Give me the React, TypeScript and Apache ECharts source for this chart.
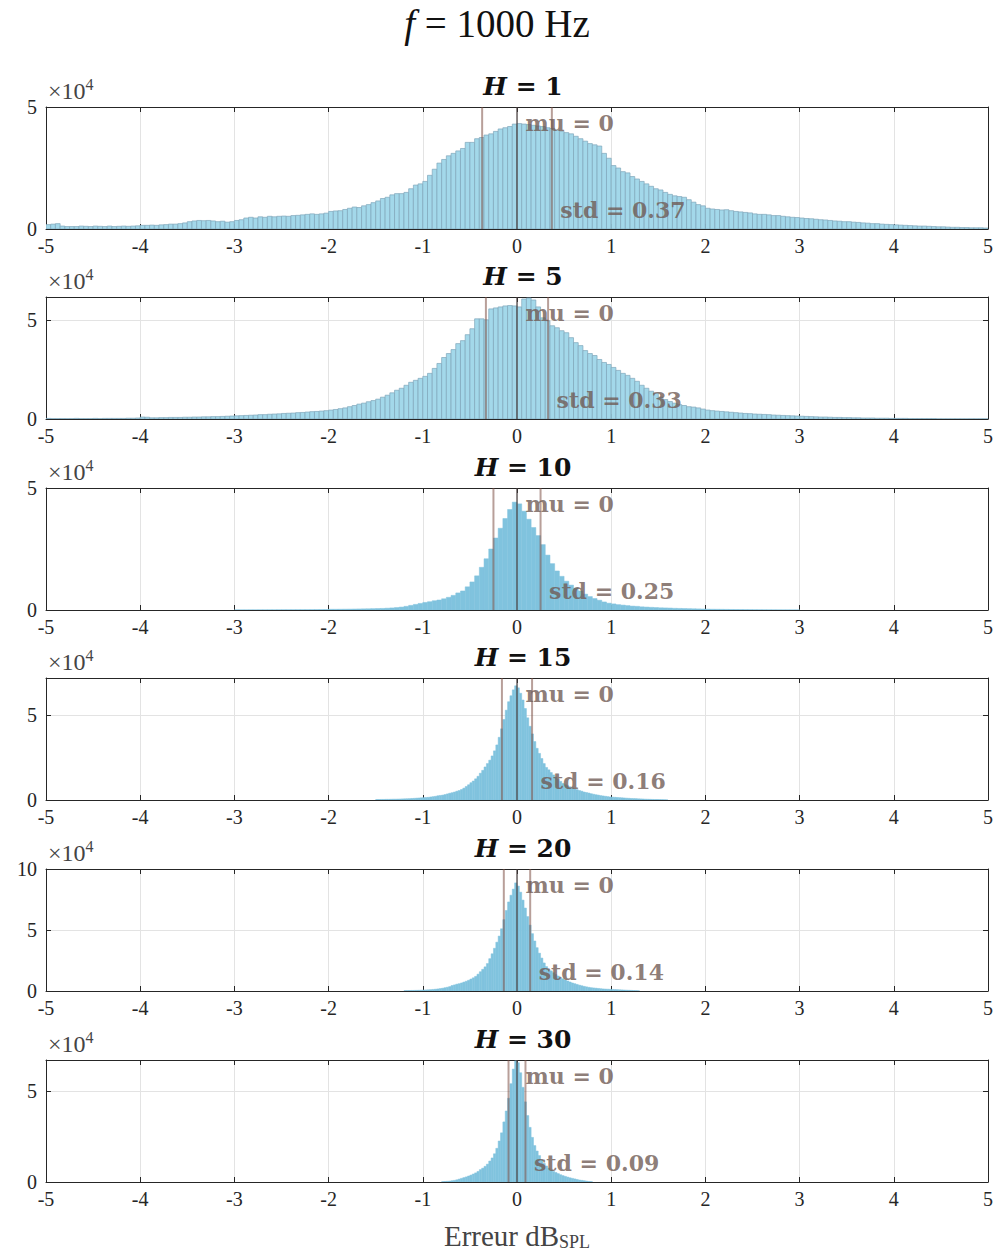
import React, { useEffect, useRef } from "react";
import * as echarts from "echarts";

// ---------- DATA (counts in units of 10^4) ----------
const H_VALUES = ["1", "5", "10", "15", "20", "30"];
const MU = [0, 0, 0, 0, 0, 0];
const STD = [0.37, 0.33, 0.25, 0.16, 0.14, 0.09];
const Y_MAX = [5, 6.15, 5, 7.2, 10, 6.7];
const Y_TICK_STEP = 5;
const X_TICKS_MIN = -5;
const X_TICKS_MAX = 5;
const BIN_START = [-5, -5, -3, -1.5, -1.2, -0.8];
const BIN_WIDTH = [0.05, 0.05, 0.05, 0.025, 0.025, 0.025];

const COUNTS_H1 = [
  0.18, 0.2, 0.22, 0.12, 0.1, 0.1, 0.1, 0.12, 0.11, 0.1, 0.12, 0.11, 0.1, 0.12, 0.1, 0.11, 0.12, 0.11, 0.12, 0.13,
  0.15, 0.15, 0.16, 0.15, 0.17, 0.18, 0.2, 0.2, 0.22, 0.25, 0.3, 0.33, 0.35, 0.34, 0.35, 0.33, 0.3, 0.32, 0.28, 0.3,
  0.35, 0.38, 0.45, 0.48, 0.45, 0.5, 0.48, 0.52, 0.5, 0.52, 0.53, 0.52, 0.55, 0.56, 0.58, 0.6, 0.62, 0.6, 0.62, 0.65,
  0.72, 0.74, 0.75, 0.8, 0.85, 0.9, 0.88, 0.95, 1.0, 1.08, 1.15, 1.25, 1.3, 1.4, 1.45, 1.45, 1.5, 1.65, 1.8, 1.85,
  1.95, 2.2, 2.45, 2.7, 2.85, 3.0, 3.1, 3.2, 3.3, 3.55, 3.55, 3.7, 3.75, 3.85, 3.9, 4.0, 4.1, 4.15, 4.2, 4.3,
  4.32, 4.3, 4.28, 4.25, 4.22, 4.2, 4.15, 4.12, 4.05, 4.0, 3.95, 3.9, 3.8, 3.7, 3.6, 3.5, 3.45, 3.4, 3.1, 2.9,
  2.6, 2.5, 2.35, 2.3, 2.15, 2.05, 1.95, 1.85, 1.75, 1.65, 1.6, 1.5, 1.42, 1.36, 1.33, 1.3, 1.2, 1.1, 1.0, 0.95,
  0.85, 0.82, 0.8, 0.78, 0.79, 0.75, 0.72, 0.7, 0.68, 0.66, 0.62, 0.6, 0.6, 0.58, 0.55, 0.55, 0.52, 0.5, 0.48, 0.47,
  0.45, 0.43, 0.42, 0.4, 0.38, 0.37, 0.35, 0.33, 0.32, 0.3, 0.3, 0.28, 0.27, 0.25, 0.24, 0.22, 0.22, 0.2, 0.19, 0.18,
  0.17, 0.16, 0.15, 0.14, 0.13, 0.12, 0.12, 0.11, 0.1, 0.09, 0.09, 0.08, 0.07, 0.07, 0.06, 0.06, 0.05, 0.05, 0.05, 0.04,
];

const COUNTS_H5 = [
  0.03, 0.02, 0.02, 0.02, 0.02, 0.02, 0.03, 0.02, 0.02, 0.02, 0.03, 0.02, 0.03, 0.03, 0.03, 0.03, 0.03, 0.04, 0.04, 0.05,
  0.1, 0.09, 0.06, 0.06, 0.07, 0.07, 0.08, 0.08, 0.08, 0.09, 0.09, 0.1, 0.1, 0.11, 0.11, 0.12, 0.12, 0.13, 0.14, 0.15,
  0.16, 0.17, 0.18, 0.19, 0.2, 0.22, 0.22, 0.24, 0.25, 0.26, 0.28, 0.29, 0.3, 0.32, 0.33, 0.35, 0.37, 0.38, 0.4, 0.42,
  0.45, 0.48, 0.52, 0.56, 0.62, 0.68, 0.75, 0.8, 0.87, 0.93, 1.0, 1.1, 1.2, 1.32, 1.45, 1.55, 1.7, 1.85, 1.95, 2.05,
  2.15, 2.3, 2.55, 2.8, 3.1, 3.3, 3.5, 3.8, 3.95, 4.25, 4.55, 5.05, 5.05, 5.0, 5.55, 5.6, 5.65, 5.7, 5.72, 5.7,
  5.65, 6.05, 6.1, 6.0, 5.65, 5.1, 4.95, 4.7, 4.6, 4.45, 4.35, 4.1, 3.85, 3.7, 3.45, 3.3, 3.2, 3.0, 2.85, 2.75,
  2.6, 2.45, 2.3, 2.2, 2.05, 1.9, 1.7, 1.55, 1.4, 1.3, 1.1, 0.98, 0.88, 0.8, 0.72, 0.68, 0.62, 0.6, 0.56, 0.5,
  0.45, 0.42, 0.4, 0.38, 0.36, 0.34, 0.32, 0.3, 0.28, 0.27, 0.25, 0.24, 0.23, 0.22, 0.2, 0.19, 0.18, 0.17, 0.16, 0.15,
  0.14, 0.13, 0.12, 0.11, 0.1, 0.1, 0.09, 0.08, 0.08, 0.07, 0.07, 0.06, 0.06, 0.05, 0.05, 0.05, 0.04, 0.04, 0.04, 0.03,
  0.03, 0.03, 0.03, 0.02, 0.02, 0.02, 0.02, 0.02, 0.02, 0.01, 0.01, 0.01, 0.01, 0.01, 0.01, 0.01, 0.01, 0.01, 0.01, 0.01,
];

const COUNTS_H10 = [
  0.005, 0.005, 0.005, 0.006, 0.006, 0.007, 0.007, 0.008, 0.008, 0.009, 0.01, 0.01, 0.011, 0.012, 0.013, 0.014, 0.015, 0.017, 0.018, 0.02,
  0.03, 0.03, 0.032, 0.034, 0.036, 0.04, 0.043, 0.047, 0.05, 0.055, 0.06, 0.065, 0.075, 0.085, 0.1, 0.12, 0.15, 0.19, 0.23, 0.27,
  0.31, 0.34, 0.38, 0.41, 0.46, 0.52, 0.6, 0.7, 0.78, 0.95, 1.15, 1.4, 1.75, 2.1, 2.5, 2.95, 3.35, 3.75, 4.12, 4.42,
  4.35, 4.05, 3.72, 3.38, 3.05, 2.68, 2.25, 1.9, 1.6, 1.38, 1.18, 1.02, 0.9, 0.78, 0.65, 0.55, 0.47, 0.4, 0.33, 0.28,
  0.25, 0.22, 0.2, 0.18, 0.16, 0.15, 0.13, 0.12, 0.11, 0.1, 0.09, 0.085, 0.08, 0.07, 0.065, 0.06, 0.055, 0.05, 0.045, 0.04,
  0.035, 0.032, 0.03, 0.028, 0.025, 0.022, 0.02, 0.018, 0.016, 0.014, 0.012, 0.01, 0.009, 0.008, 0.007, 0.006, 0.005, 0.005, 0.004, 0.004,
];

const COUNTS_H15 = [
  0.03, 0.03, 0.035, 0.035, 0.04, 0.04, 0.045, 0.05, 0.05, 0.055, 0.06, 0.065, 0.07, 0.075, 0.08, 0.09, 0.1, 0.11, 0.12, 0.13,
  0.14, 0.15, 0.16, 0.18, 0.2, 0.22, 0.25, 0.27, 0.29, 0.32, 0.36, 0.4, 0.43, 0.47, 0.52, 0.56, 0.62, 0.7, 0.8, 0.9,
  1.02, 1.12, 1.25, 1.4, 1.58, 1.75, 1.95, 2.15, 2.35, 2.6, 2.9, 3.25, 3.7, 4.2, 4.75, 5.3, 5.8, 6.15, 6.5, 6.74,
  6.62, 6.3, 5.9, 5.4, 4.85, 4.35, 3.9, 3.45, 3.05, 2.75, 2.45, 2.15, 1.92, 1.78, 1.62, 1.48, 1.35, 1.22, 1.1, 0.98,
  0.9, 0.84, 0.78, 0.72, 0.66, 0.61, 0.56, 0.52, 0.47, 0.44, 0.41, 0.37, 0.34, 0.31, 0.29, 0.26, 0.24, 0.22, 0.2, 0.18,
  0.17, 0.16, 0.15, 0.14, 0.13, 0.12, 0.11, 0.1, 0.09, 0.085, 0.08, 0.07, 0.065, 0.06, 0.05, 0.045, 0.04, 0.035, 0.03, 0.03,
  0.025, 0.02, 0.015, 0.01,
];

const COUNTS_H20 = [
  0.03, 0.035, 0.04, 0.045, 0.05, 0.055, 0.06, 0.07, 0.08, 0.09, 0.1, 0.11, 0.13, 0.15, 0.17, 0.2, 0.23, 0.27, 0.31, 0.36,
  0.45, 0.5, 0.56, 0.6, 0.66, 0.73, 0.8, 0.88, 0.98, 1.08, 1.2, 1.38, 1.58, 1.78, 1.98, 2.25, 2.65, 3.05, 3.5, 4.0,
  4.5, 5.1, 5.85, 6.6, 7.3, 7.85, 8.35, 8.86, 8.6, 8.1, 7.45, 6.8, 6.1, 5.4, 4.7, 4.1, 3.55, 3.1, 2.7, 2.3,
  2.0, 1.8, 1.65, 1.5, 1.35, 1.23, 1.1, 1.0, 0.9, 0.82, 0.74, 0.66, 0.6, 0.54, 0.48, 0.43, 0.38, 0.34, 0.3, 0.27,
  0.25, 0.23, 0.21, 0.19, 0.17, 0.16, 0.15, 0.14, 0.13, 0.12, 0.11, 0.1, 0.09, 0.08, 0.07, 0.06, 0.05, 0.04, 0.03, 0.02,
];

const COUNTS_H30 = [
  0.02, 0.03, 0.04, 0.05, 0.07, 0.09, 0.12, 0.16, 0.2, 0.24, 0.28, 0.33, 0.38, 0.44, 0.5, 0.58,
  0.68, 0.76, 0.86, 0.98, 1.15, 1.32, 1.55, 1.85, 2.25, 2.7, 3.3, 3.9, 4.6, 5.4, 6.2, 6.65,
  6.55, 6.0, 5.2, 4.4, 3.65, 3.0, 2.45, 2.0, 1.7, 1.45, 1.22, 1.02, 0.88, 0.76, 0.66, 0.58,
  0.52, 0.46, 0.4, 0.35, 0.31, 0.27, 0.23, 0.2, 0.17, 0.14, 0.11, 0.09, 0.07, 0.05, 0.03, 0.02,
];

const COUNTS = [COUNTS_H1, COUNTS_H5, COUNTS_H10, COUNTS_H15, COUNTS_H20, COUNTS_H30];

// ---------- LAYOUT / STYLE ----------
const GRID_TOPS = [107, 297, 488, 678, 869, 1060];
const GRID_HEIGHT = 122;
const GRID_LEFT = 46;
const GRID_RIGHT = 11;
const PLOT_CENTER_X = (GRID_LEFT + (999 - GRID_RIGHT)) / 2;
const SERIF = "'Liberation Serif', 'DejaVu Serif', serif";
const BOLD_SERIF = "'DejaVu Serif', 'Liberation Serif', serif";
const AXIS_COLOR = "#262626";
const GRID_COLOR = "#e3e3e3";
const LABEL_COLOR = "#6f5a54";

function buildBins(start: number, width: number, counts: number[]) {
  return counts.map((c, i) => [start + i * width, start + (i + 1) * width, c]);
}

function buildOption() {
  const grid: any[] = [];
  const xAxis: any[] = [];
  const yAxis: any[] = [];
  const series: any[] = [];
  const graphic: any[] = [];

  for (let i = 0; i < 6; i++) {
    const ymax = Y_MAX[i];
    grid.push({ left: GRID_LEFT, right: GRID_RIGHT, top: GRID_TOPS[i], height: GRID_HEIGHT });

    const xBase = {
      gridIndex: i,
      type: "value",
      min: X_TICKS_MIN,
      max: X_TICKS_MAX,
      interval: 1,
      axisLine: { show: true, onZero: false, lineStyle: { color: AXIS_COLOR, width: 1 } },
      axisTick: { show: true, inside: true, length: 5, lineStyle: { color: AXIS_COLOR } },
    };
    xAxis.push({
      ...xBase,
      position: "bottom",
      axisLabel: { fontFamily: SERIF, fontSize: 20, color: AXIS_COLOR, margin: 7 },
      splitLine: { show: true, lineStyle: { color: GRID_COLOR, width: 1 } },
    });
    xAxis.push({
      ...xBase,
      position: "top",
      axisLabel: { show: false },
      splitLine: { show: false },
    });

    const yBase = {
      gridIndex: i,
      type: "value",
      min: 0,
      max: ymax,
      interval: Y_TICK_STEP,
      axisLine: { show: true, onZero: false, lineStyle: { color: AXIS_COLOR, width: 1 } },
      axisTick: { show: true, inside: true, length: 5, lineStyle: { color: AXIS_COLOR } },
    };
    yAxis.push({
      ...yBase,
      position: "left",
      axisLabel: {
        fontFamily: SERIF,
        fontSize: 20,
        color: AXIS_COLOR,
        margin: 9,
        formatter: (v: number) => (Math.abs(v % Y_TICK_STEP) < 1e-9 ? String(v) : ""),
      },
      splitLine: { show: true, lineStyle: { color: GRID_COLOR, width: 1 } },
    });
    yAxis.push({
      ...yBase,
      position: "right",
      axisLabel: { show: false },
      splitLine: { show: false },
    });

    const fine = i >= 2;
    const fill = fine ? "#80c3de" : "#a3d8ea";
    const stroke = fine ? "#80c3de" : "#80a6ba";

    series.push({
      type: "custom",
      xAxisIndex: 2 * i,
      yAxisIndex: 2 * i,
      clip: true,
      silent: true,
      z: 2,
      encode: { x: [0, 1], y: 2 },
      data: buildBins(BIN_START[i], BIN_WIDTH[i], COUNTS[i]),
      renderItem: (params: any, api: any) => {
        const x0 = api.value(0);
        const x1 = api.value(1);
        const y = api.value(2);
        const p0 = api.coord([x0, y]);
        const p1 = api.coord([x1, 0]);
        return {
          type: "rect",
          shape: { x: p0[0], y: p0[1], width: p1[0] - p0[0], height: p1[1] - p0[1] },
          style: { fill, stroke, lineWidth: fine ? 0.5 : 0.7 },
        };
      },
    });

    const vlines = [
      { x: MU[i] - STD[i], color: "rgba(125,80,70,0.55)" },
      { x: MU[i] + STD[i], color: "rgba(125,80,70,0.55)" },
      { x: MU[i], color: "rgba(70,60,60,0.6)" },
    ];
    vlines.forEach((vl) => {
      series.push({
        type: "line",
        xAxisIndex: 2 * i,
        yAxisIndex: 2 * i,
        symbol: "none",
        silent: true,
        z: 3,
        lineStyle: { color: vl.color, width: 2 },
        data: [
          [vl.x, 0],
          [vl.x, ymax],
        ],
      });
    });

    series.push({
      type: "scatter",
      xAxisIndex: 2 * i,
      yAxisIndex: 2 * i,
      symbolSize: 1,
      silent: true,
      z: 4,
      itemStyle: { color: "rgba(0,0,0,0)" },
      label: {
        show: true,
        position: "right",
        distance: 8,
        formatter: (p: any) => p.data[2],
        fontFamily: BOLD_SERIF,
        fontWeight: "bold",
        fontSize: 22,
        color: LABEL_COLOR,
      },
      data: [
        [MU[i], ymax * 0.87, `mu = ${MU[i]}`],
        [MU[i] + STD[i], ymax * 0.155, `std = ${STD[i].toFixed(2)}`],
      ],
    });

    // subplot title
    graphic.push({
      type: "text",
      x: PLOT_CENTER_X + 6,
      y: GRID_TOPS[i] - 21,
      style: {
        text: `{h|H} = ${H_VALUES[i]}`,
        fontFamily: BOLD_SERIF,
        fontWeight: "bold",
        fontSize: 25,
        fill: "#111",
        textAlign: "center",
        textVerticalAlign: "middle",
        rich: {
          h: { fontFamily: BOLD_SERIF, fontWeight: "bold", fontStyle: "italic", fontSize: 25, fill: "#111" },
        },
      },
    });
    // x10^4 exponent
    graphic.push({
      type: "text",
      x: GRID_LEFT + 2,
      y: GRID_TOPS[i] - 16,
      style: {
        text: "{a|×10}{s|4}",
        textAlign: "left",
        textVerticalAlign: "middle",
        rich: {
          a: { fontFamily: SERIF, fontSize: 24, fill: "#444" },
          s: { fontFamily: SERIF, fontSize: 16, fill: "#444", padding: [0, 0, 14, 0] },
        },
      },
    });
  }

  // main title
  graphic.push({
    type: "text",
    x: 497,
    y: 23,
    style: {
      text: "{i|f} = 1000 Hz",
      fontFamily: SERIF,
      fontSize: 39,
      fill: "#111",
      textAlign: "center",
      textVerticalAlign: "middle",
      rich: { i: { fontFamily: SERIF, fontStyle: "italic", fontSize: 39, fill: "#111" } },
    },
  });
  // x axis label
  graphic.push({
    type: "text",
    x: PLOT_CENTER_X,
    y: 1236,
    style: {
      text: "{a|Erreur dB}{s|SPL}",
      textAlign: "center",
      textVerticalAlign: "middle",
      rich: {
        a: { fontFamily: SERIF, fontSize: 29, fill: "#444" },
        s: { fontFamily: SERIF, fontSize: 18, fill: "#444", padding: [12, 0, 0, 0] },
      },
    },
  });

  return { animation: false, backgroundColor: "#ffffff", grid, xAxis, yAxis, series, graphic };
}

export default function App() {
  const ref = useRef<HTMLDivElement>(null);
  useEffect(() => {
    if (!ref.current) return;
    const chart = echarts.init(ref.current, undefined, { renderer: "svg" });
    chart.setOption(buildOption() as any);
    return () => chart.dispose();
  }, []);
  return (
    <div
      ref={ref}
      style={{ position: "absolute", left: 0, top: 0, width: 999, height: 1255, background: "#fff" }}
    />
  );
}
